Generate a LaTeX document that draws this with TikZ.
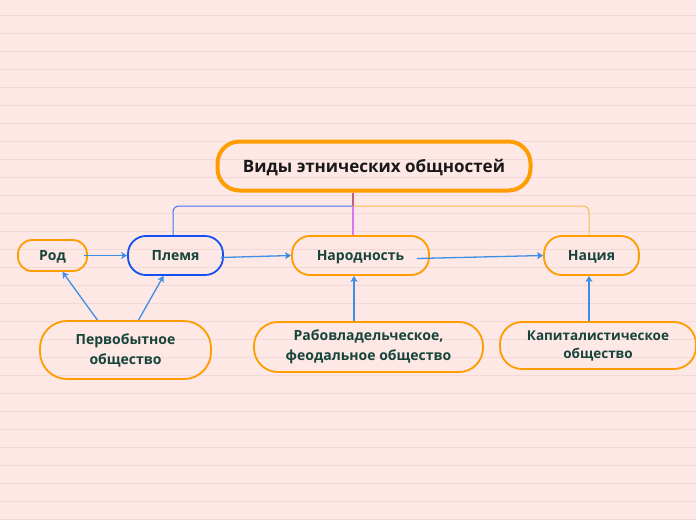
\documentclass[tikz,border=0pt]{standalone}
\usepackage{fontspec}
\setmainfont{Open Sans}
\usetikzlibrary{arrows.meta}

\definecolor{paper}{HTML}{FDE8E6}
\definecolor{rule}{HTML}{F2D8D6}
\definecolor{topicorange}{HTML}{FF9C00}
\definecolor{topicblue}{HTML}{1450F0}
\definecolor{linkblue}{HTML}{3D8EE6}
\definecolor{labelgreen}{HTML}{17443A}

\tikzset{
    x=1pt, y=-1pt, >={Stealth[length=6pt,width=7pt,inset=1.5pt]},
    topic/.style={draw=topicorange, line width=1.8pt, align=center,
        text=labelgreen, font=\bfseries\fontsize{14}{20}\selectfont,
        inner sep=0pt},
    oneline/.style={topic, text depth=0pt},
    root/.style={oneline, line width=4pt, text=black!90,
        font=\bfseries\fontsize{17}{20}\selectfont},
    pill/.style n args={3}{minimum width=#1pt, minimum height=#2pt,
        rounded corners=#3pt},
    link/.style={->, linkblue, line width=1.3pt},
    branch/.style={line width=1pt, rounded corners=6pt},
}

\begin{document}
\begin{tikzpicture}
    \useasboundingbox (0,0) rectangle (696,520);
    \fill [paper] (0,0) rectangle (696,520);
    \foreach \row in {0,...,28}
        \draw [rule, line width=1pt] (0,15+18*\row) -- (696,15+18*\row);

    % topics
    \node [root, pill={313}{49}{22}] (root) at (374,166) {Виды этнических общностей};
    \node [oneline, pill={69}{31}{14}] (rod) at (52.5,255.5) {Род};
    \node [oneline, draw=topicblue, pill={95}{39}{18}] (plemya) at (175.5,255.5) {Племя};
    \node [oneline, pill={137}{39}{18}] (narod) at (360.5,255.5) {Народность};
    \node [oneline, pill={95}{39}{18}] (natsiya) at (591.5,255.5) {Нация};
    \node [topic, pill={171}{58}{27}] (perv) at (125.5,350) {Первобытное\\общество};
    \node [topic, pill={229}{50}{24}] (rab) at (368.5,347) {Рабовладельческое,\\феодальное общество};
    \node [topic, pill={196}{47}{22},
        font=\bfseries\fontsize{13.5}{18}\selectfont] (kap) at (598,345.5) {Капиталистическое\\общество};

    % branches from the root
    \coordinate (hub) at (353,206);
    \draw [branch, color={rgb,255:red,192;green,96;blue,122}, line width=2pt]
        ([xshift=-21pt]root.south) -- (hub);
    \draw [branch, topicblue!80] (hub) -| ([xshift=-2.5pt]plemya.north);
    \draw [branch, color={rgb,255:red,214;green,120;blue,240}, line width=1.4pt]
        (hub) -- (hub |- narod.north);
    \draw [branch, topicorange!70] (hub) -| ([xshift=-2.5pt]natsiya.north);

    % links
    \draw [link] ([xshift=-4pt]rod.east) -- (plemya.west);
    \draw [link] ([xshift=-3pt,yshift=-2pt]plemya.east) -- (narod.west);
    \draw [link] ([xshift=-13pt,yshift=-3pt]narod.east) -- (natsiya.west);
    \draw [link] ([xshift=-28pt]perv.north) -- ([xshift=10pt]rod.south);
    \draw [link] ([xshift=13pt]perv.north) -- ([xshift=-12pt]plemya.south);
    \draw [link] ([xshift=-14.5pt]rab.north) -- ([xshift=-6.5pt]narod.south);
    \draw [link] ([xshift=-9pt]kap.north) -- ([xshift=-2.5pt]natsiya.south);
\end{tikzpicture}
\end{document}
